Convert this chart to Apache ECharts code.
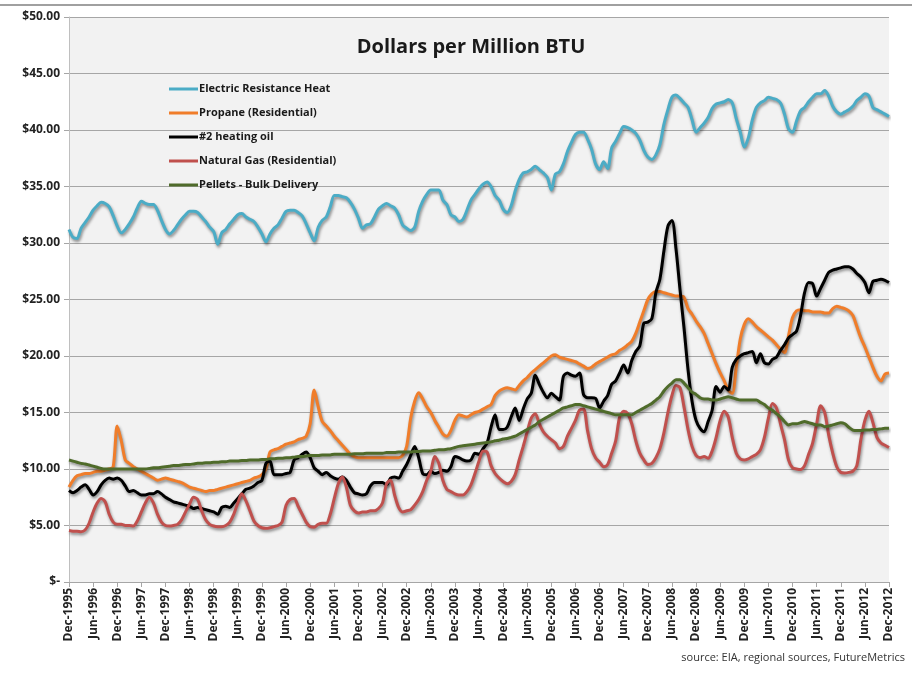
<!DOCTYPE html>
<html lang="en">
<head>
<meta charset="UTF-8">
<title>Dollars per Million BTU</title>
<script src="https://cdn.jsdelivr.net/npm/echarts@6/dist/echarts.min.js"></script>
<style>
  html, body { margin: 0; padding: 0; background: #fff; }
  #main { width: 912px; height: 674px; }
</style>
</head>
<body>
<div id="main"></div>
<script type="text/javascript">
// monthly, Dec-1995 .. Dec-2012
var monthNames = ['Jan', 'Feb', 'Mar', 'Apr', 'May', 'Jun', 'Jul', 'Aug', 'Sep', 'Oct', 'Nov', 'Dec'];
var categories = [];
for (var k = 0; k < 205; k++) {
    categories.push(monthNames[(11 + k) % 12] + '-' + (1995 + Math.floor((11 + k) / 12)));
}

var seriesNames = ['Electric Resistance Heat', 'Propane (Residential)', '#2 heating oil', 'Natural Gas (Residential)', 'Pellets - Bulk Delivery'];

var electric = [31.2,
    30.5, 30.4, 31.3, 31.8, 32.3, 32.9, 33.3, 33.6, 33.5, 33.2, 32.4, 31.5,
    30.9, 31.2, 31.7, 32.3, 33.1, 33.7, 33.5, 33.4, 33.4, 32.9, 32.0, 31.2,
    30.8, 31.1, 31.6, 32.1, 32.5, 32.8, 32.8, 32.7, 32.3, 31.9, 31.4, 31.0,
    29.9, 30.9, 31.2, 31.7, 32.1, 32.5, 32.6, 32.3, 32.1, 31.9, 31.4, 30.8,
    30.1, 30.8, 31.3, 31.6, 32.2, 32.8, 32.9, 32.9, 32.7, 32.4, 31.7, 30.9,
    30.2, 31.4, 32.0, 32.3, 33.2, 34.2, 34.2, 34.1, 34.0, 33.6, 33.0, 32.2,
    31.3, 31.6, 31.7, 32.3, 33.0, 33.3, 33.5, 33.3, 33.1, 32.5, 31.6, 31.3,
    31.1, 31.4, 32.8, 33.7, 34.3, 34.7, 34.7, 34.7, 33.8, 33.4, 32.5, 32.3,
    31.9, 32.1, 32.9, 33.8, 34.3, 34.8, 35.2, 35.4, 35.0, 34.2, 33.8, 33.0,
    32.7, 33.3, 34.6, 35.6, 36.2, 36.3, 36.5, 36.8, 36.5, 36.2, 35.8, 34.7,
    36.1, 36.3, 37.0, 38.1, 38.9, 39.6, 39.8, 39.8, 39.2, 38.3, 37.0, 36.5,
    37.2, 36.6, 38.4, 39.0, 39.7, 40.3, 40.2, 40.0, 39.7, 39.1, 38.2, 37.6,
    37.4, 37.8, 38.7, 40.5, 41.8, 42.9, 43.1, 42.8, 42.4, 42.0, 40.9, 39.8,
    40.2, 40.6, 41.1, 41.9, 42.3, 42.4, 42.5, 42.7, 42.4, 41.0, 39.8, 38.5,
    39.3, 40.9, 42.0, 42.4, 42.6, 42.9, 42.8, 42.7, 42.4, 41.4, 40.1, 39.8,
    40.8, 41.7, 42.0, 42.5, 42.9, 43.2, 43.2, 43.5, 43.0, 42.1, 41.6, 41.4,
    41.6, 41.8, 42.1, 42.6, 42.9, 43.2, 43.0, 42.0, 41.8, 41.6, 41.4, 41.2];

var propane = [8.4,
    9.0, 9.4, 9.5, 9.6, 9.6, 9.7, 9.8, 9.8, 9.9, 10.0, 10.2, 13.8,
    12.5, 10.8, 10.5, 10.2, 10.0, 9.8, 9.6, 9.4, 9.2, 9.0, 9.1, 9.2,
    9.1, 9.0, 8.9, 8.8, 8.6, 8.4, 8.3, 8.2, 8.1, 8.0, 8.1, 8.1,
    8.2, 8.3, 8.4, 8.5, 8.6, 8.7, 8.8, 8.9, 9.0, 9.2, 9.3, 9.5,
    10.0, 11.5, 11.7, 11.8, 12.0, 12.2, 12.3, 12.4, 12.6, 12.7, 12.9, 14.0,
    17.0, 15.5, 14.2, 13.8, 13.4, 12.9, 12.5, 12.1, 11.7, 11.3, 11.1, 11.0,
    11.0, 11.0, 11.0, 11.0, 11.0, 11.0, 11.0, 11.0, 11.0, 11.0, 11.2, 12.0,
    14.5, 16.0, 16.75, 16.2, 15.5, 15.0, 14.3, 13.7, 13.1, 12.9, 13.4, 14.3,
    14.8, 14.7, 14.6, 14.8, 15.0, 15.1, 15.3, 15.5, 15.7, 16.5, 16.9, 17.1,
    17.2, 17.1, 17.0, 17.4, 17.8, 18.1, 18.5, 18.8, 19.1, 19.4, 19.7, 20.0,
    20.1, 19.9, 19.8, 19.7, 19.6, 19.5, 19.3, 19.1, 18.9, 19.0, 19.3, 19.5,
    19.7, 19.9, 20.1, 20.2, 20.5, 20.7, 21.0, 21.3, 22.0, 23.0, 24.0, 25.0,
    25.5, 25.7, 25.7, 25.6, 25.5, 25.4, 25.3, 25.3, 25.2, 24.2, 23.7, 23.1,
    22.6, 22.0, 21.1, 20.2, 19.3, 18.5, 17.8, 17.0, 16.7, 19.0, 21.5, 22.8,
    23.3, 23.0, 22.6, 22.3, 22.0, 21.7, 21.4, 21.0, 20.6, 20.3, 21.8, 23.4,
    24.0, 24.1, 24.0, 24.0, 23.9, 23.9, 23.9, 23.8, 23.8, 24.2, 24.4, 24.3,
    24.2, 24.0, 23.6, 22.6, 21.6, 20.8, 19.9, 19.0, 18.2, 17.8, 18.4, 18.5];

var heatingOil = [8.1,
    7.9, 8.1, 8.4, 8.6, 8.2, 7.7, 8.0, 8.6, 9.0, 9.2, 9.1, 9.2,
    9.0, 8.5, 8.0, 8.1, 7.9, 7.7, 7.7, 7.8, 7.8, 8.0, 7.8, 7.5,
    7.3, 7.1, 7.0, 6.9, 6.8, 6.7, 6.5, 6.6, 6.5, 6.4, 6.3, 6.2,
    6.0, 6.6, 6.7, 6.6, 7.0, 7.4, 7.8, 8.2, 8.3, 8.5, 8.8, 9.0,
    10.5, 10.7, 9.5, 9.5, 9.5, 9.6, 9.7, 10.8, 11.0, 11.3, 11.5, 11.0,
    10.1, 9.8, 9.5, 9.7, 9.4, 9.2, 9.1, 9.3, 9.0, 8.4, 7.9, 7.8,
    7.7, 7.8, 8.5, 8.8, 8.8, 8.8, 8.6, 9.2, 9.3, 9.2, 9.8, 10.4,
    11.2, 12.0, 11.0, 9.6, 9.5, 9.8, 9.6, 9.7, 9.9, 9.8, 10.2, 11.1,
    11.0, 10.8, 10.7, 10.8, 11.4, 11.3, 11.8, 12.3, 13.7, 14.8, 13.5, 13.5,
    13.7, 14.6, 15.4, 14.3, 15.3, 16.2, 16.7, 18.3, 17.5, 16.8, 16.3, 16.7,
    16.4, 16.1, 18.2, 18.5, 18.3, 18.2, 18.5, 16.6, 16.3, 16.3, 16.25, 15.4,
    16.0, 16.5, 17.5, 17.8, 18.5, 19.2, 18.5, 19.6, 20.4, 20.9, 22.9, 23.0,
    23.3, 25.6, 26.8, 29.3, 31.5, 32.0, 29.5, 25.9, 22.5, 18.8, 16.0, 14.3,
    13.6, 13.3, 14.2, 15.2, 17.3, 16.8, 17.3, 17.0, 19.0, 19.7, 20.0, 20.2,
    20.3, 20.4, 19.4, 20.2, 19.4, 19.3, 19.7, 19.9, 20.5, 21.0, 21.6, 21.9,
    22.2, 23.6, 25.6, 26.5, 26.4, 25.3, 26.0, 26.7, 27.4, 27.6, 27.7, 27.8,
    27.9, 27.9, 27.7, 27.3, 27.0, 26.5, 25.6, 26.6, 26.7, 26.8, 26.7, 26.5];

var naturalGas = [4.55,
    4.5, 4.5, 4.45, 4.6, 5.2, 6.2, 7.0, 7.4, 7.1, 6.0, 5.3, 5.1,
    5.1, 5.0, 5.0, 4.95, 5.4, 6.2, 7.0, 7.5, 7.0, 6.0, 5.3, 5.0,
    4.95, 5.0, 5.1, 5.5, 6.2, 6.9, 7.5, 7.3, 6.3, 5.5, 5.1, 4.95,
    4.9, 4.9, 5.0, 5.3, 6.0, 7.0, 7.8, 7.2, 6.3, 5.4, 5.0, 4.8,
    4.75, 4.8, 4.9, 5.0, 5.3, 6.8, 7.3, 7.4, 6.7, 6.0, 5.3, 4.9,
    4.85, 5.1, 5.2, 5.2, 6.0, 7.4, 8.7, 9.3, 8.4, 6.8, 6.3, 6.1,
    6.2, 6.2, 6.3, 6.3, 6.5, 7.0, 8.7, 9.0, 7.7, 6.6, 6.2, 6.3,
    6.4, 6.8, 7.3, 8.0, 9.0, 9.8, 11.1, 10.5, 9.0, 8.2, 8.0, 7.8,
    7.7, 7.7, 8.0, 8.6, 9.6, 10.7, 11.6, 11.5, 10.3, 9.6, 9.2, 8.9,
    8.7, 8.9, 9.5, 10.8, 12.0, 13.3, 14.5, 14.9, 14.0, 13.3, 12.9, 12.6,
    12.3, 11.8, 12.0, 12.9, 13.6, 14.3, 15.2, 15.3, 13.4, 11.8, 11.0, 10.6,
    10.2, 10.4, 11.4, 12.5, 14.6, 15.1, 14.9, 14.0, 12.5, 11.4, 10.8, 10.4,
    10.5, 11.0, 11.8, 13.2, 15.0, 16.5, 17.4, 17.2, 15.5, 13.5, 12.0, 11.2,
    11.0, 11.1, 10.95, 11.6, 12.8, 14.3, 15.1, 14.6, 12.8, 11.4, 10.9, 10.8,
    10.9, 11.1, 11.3, 11.7, 12.8, 14.5, 15.8, 15.4, 14.0, 12.6, 10.8, 10.1,
    10.0, 9.95, 10.3, 11.3, 12.3, 14.0, 15.6, 15.0, 13.0, 11.4, 10.2, 9.7,
    9.65, 9.7, 9.8, 10.3, 12.6, 14.3, 15.1, 14.1, 12.8, 12.3, 12.1, 11.9];

var pellets = [10.8,
    10.7, 10.6, 10.5, 10.45, 10.35, 10.25, 10.15, 10.05, 10.0, 10.0, 10.0, 10.0,
    10.0, 10.0, 10.0, 10.0, 10.0, 10.0, 10.0, 10.05, 10.1, 10.1, 10.15, 10.2,
    10.25, 10.3, 10.3, 10.35, 10.4, 10.4, 10.45, 10.5, 10.5, 10.55, 10.55, 10.6,
    10.6, 10.65, 10.65, 10.7, 10.7, 10.7, 10.75, 10.75, 10.8, 10.8, 10.8, 10.85,
    10.85, 10.9, 10.9, 10.95, 10.95, 11.0, 11.0, 11.05, 11.1, 11.1, 11.15, 11.2,
    11.2, 11.2, 11.25, 11.25, 11.25, 11.3, 11.3, 11.3, 11.3, 11.3, 11.35, 11.35,
    11.35, 11.4, 11.4, 11.4, 11.4, 11.4, 11.45, 11.45, 11.45, 11.5, 11.5, 11.5,
    11.5, 11.55, 11.55, 11.6, 11.6, 11.6, 11.65, 11.7, 11.7, 11.75, 11.8, 11.9,
    12.0, 12.05, 12.1, 12.15, 12.2, 12.25, 12.3, 12.35, 12.4, 12.5, 12.55, 12.65,
    12.7, 12.8, 12.9, 13.1, 13.3, 13.5, 13.7, 13.9, 14.2, 14.4, 14.6, 14.8,
    15.0, 15.2, 15.4, 15.5, 15.6, 15.7, 15.7, 15.6, 15.5, 15.4, 15.3, 15.2,
    15.1, 15.0, 14.9, 14.8, 14.8, 14.8, 14.8, 14.8, 15.0, 15.2, 15.4, 15.6,
    15.8, 16.1, 16.4, 16.9, 17.3, 17.6, 17.9, 17.9, 17.6, 17.2, 16.8, 16.6,
    16.3, 16.2, 16.2, 16.1, 16.1, 16.2, 16.3, 16.4, 16.3, 16.2, 16.1, 16.1,
    16.1, 16.1, 16.1, 15.9, 15.7, 15.4, 15.2, 14.9, 14.6, 14.2, 13.9, 14.0,
    14.0, 14.1, 14.2, 14.1, 14.0, 13.9, 13.9, 13.75, 13.8, 13.9, 14.0, 14.1,
    14.0, 13.7, 13.45, 13.4, 13.4, 13.45, 13.45, 13.5, 13.5, 13.55, 13.6, 13.6];

var colors = ['#4bacc6', '#f07d2a', '#000000', '#c0504d', '#4f6b2a'];
var values = [electric, propane, heatingOil, naturalGas, pellets];

var myChart = echarts.init(document.getElementById('main'));

var series = [];
for (var s = 0; s < seriesNames.length; s++) {
    series.push({
        name: seriesNames[s],
        type: 'line',
        data: values[s],
        symbol: 'none',
        smooth: 0.3,
        animation: false,
        lineStyle: {
            width: 3,
            color: colors[s],
            shadowColor: 'rgba(0,0,0,0.45)',
            shadowBlur: 3,
            shadowOffsetX: 1,
            shadowOffsetY: 2
        },
        itemStyle: { color: colors[s] }
    });
}

myChart.setOption({
    animation: false,
    backgroundColor: '#ffffff',
    title: {
        text: 'Dollars per Million BTU',
        left: 466,
        top: 32,
        textAlign: 'center',
        textStyle: { fontFamily: 'Open Sans', fontSize: 20, fontWeight: 'bold', color: '#1a1a1a' }
    },
    legend: {
        orient: 'vertical',
        left: 164,
        top: 77,
        itemGap: 10,
        itemWidth: 29,
        itemHeight: 3,
        icon: 'rect',
        data: seriesNames,
        textStyle: { fontFamily: 'Open Sans', fontSize: 11, fontWeight: 'bold', color: '#1a1a1a', lineHeight: 14, padding: [0, 0, 0, -4] }
    },
    grid: {
        left: 69,
        right: 23,
        top: 17,
        bottom: 92,
        show: true,
        backgroundColor: '#f2f2f2',
        borderWidth: 0
    },
    xAxis: {
        type: 'category',
        data: categories,
        boundaryGap: false,
        axisLine: { lineStyle: { color: '#a6a6a6' } },
        axisTick: { interval: 5, length: 5, lineStyle: { color: '#a6a6a6' } },
        axisLabel: {
            interval: 5,
            rotate: 90,
            margin: 6,
            fontFamily: 'Open Sans',
            fontSize: 12,
            fontWeight: 'bold',
            color: '#222'
        }
    },
    yAxis: {
        type: 'value',
        min: 0,
        max: 50,
        interval: 5,
        axisLine: { show: true, lineStyle: { color: '#bfbfbf' } },
        axisTick: { show: true, length: 5, lineStyle: { color: '#a6a6a6' } },
        splitLine: { lineStyle: { color: '#a6a6a6', width: 1 } },
        axisLabel: {
            margin: 9,
            fontFamily: 'Open Sans',
            fontSize: 12,
            fontWeight: 'bold',
            color: '#222',
            formatter: function (v) { return v === 0 ? '$-' : '$' + v.toFixed(2); }
        }
    },
    graphic: [
        { type: 'rect', left: 0, top: 4, shape: { width: 912, height: 2 }, style: { fill: '#a0a0a0' } },
        {
            type: 'text', right: 7, top: 652,
            style: { text: 'source: EIA, regional sources, FutureMetrics', font: '11px "Open Sans"', fill: '#333' }
        }
    ],
    series: series
});
</script>
</body>
</html>
